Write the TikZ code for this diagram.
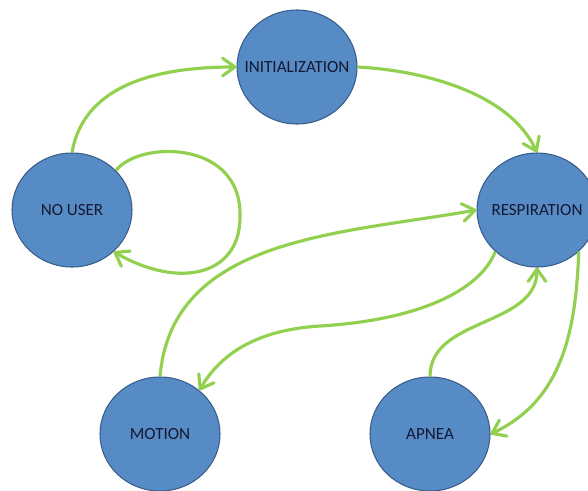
\documentclass[tikz,border=0pt]{standalone}
\usepackage{fontspec}
\setmainfont{Carlito}
\usetikzlibrary{arrows.meta, shapes.geometric}

\definecolor{stateblue}{RGB}{86,139,198}
\definecolor{stateedge}{RGB}{56,93,138}
\definecolor{statetext}{RGB}{20,24,48}
\definecolor{transgreen}{RGB}{146,208,80}

\tikzset{
  every label/.style={text=statetext, font=\fontsize{9.7}{11}\selectfont},
  state/.style={ellipse, draw=stateedge, line width=0.6pt, fill=stateblue,
    minimum width=2.4cm, minimum height=2.28cm, inner sep=0pt, label={center:#1}},
  trans/.style={draw=transgreen, line width=1.8pt, -{Straight Barb[length=7pt,width=10pt,round]}}
}

\begin{document}
\begin{tikzpicture}
          \useasboundingbox (0,0) rectangle (11.76,9.8);

          % States
          \node[state=INITIALIZATION] (init) at (5.94,8.46) {};
          \node[state=NO USER] (nouser) at (1.44,5.6) {};
          \node[state=RESPIRATION] (resp) at (10.74,5.6) {};
          \node[state=MOTION] (motion) at (3.2,1.12) {};
          \node[state=APNEA] (apnea) at (8.6,1.12) {};

          % No user -> initialization
          \draw[trans] (nouser.north) to[out=80, in=180] (init.west);

          % No user stays no user
          \draw[trans] (nouser.42) .. controls (2.8,7.0) and (4.85,7.0) .. (4.8,5.46)
                       .. controls (4.8,4.3) and (3.6,4.0) .. (nouser.-45);

          % Initialization -> respiration
          \draw[trans] (init.east) to[out=-3, in=115, looseness=0.85] (resp.north);

          % Motion -> respiration
          \draw[trans] (motion.north) to[out=85, in=190] (resp.west);

          % Respiration -> motion
          \draw[trans] (resp.-135) .. controls (9.6,4.0) and (8.4,3.4) .. (6.4,3.28)
                       .. controls (5.1,3.2) and (4.4,2.7) .. (motion.48);

          % Apnea -> respiration
          \draw[trans] (apnea.north) to[out=90, in=-90] (resp.south);

          % Respiration -> apnea
          \draw[trans] (resp.-45) to[out=-92, in=25] (apnea.east);

        \end{tikzpicture}
\end{document}
